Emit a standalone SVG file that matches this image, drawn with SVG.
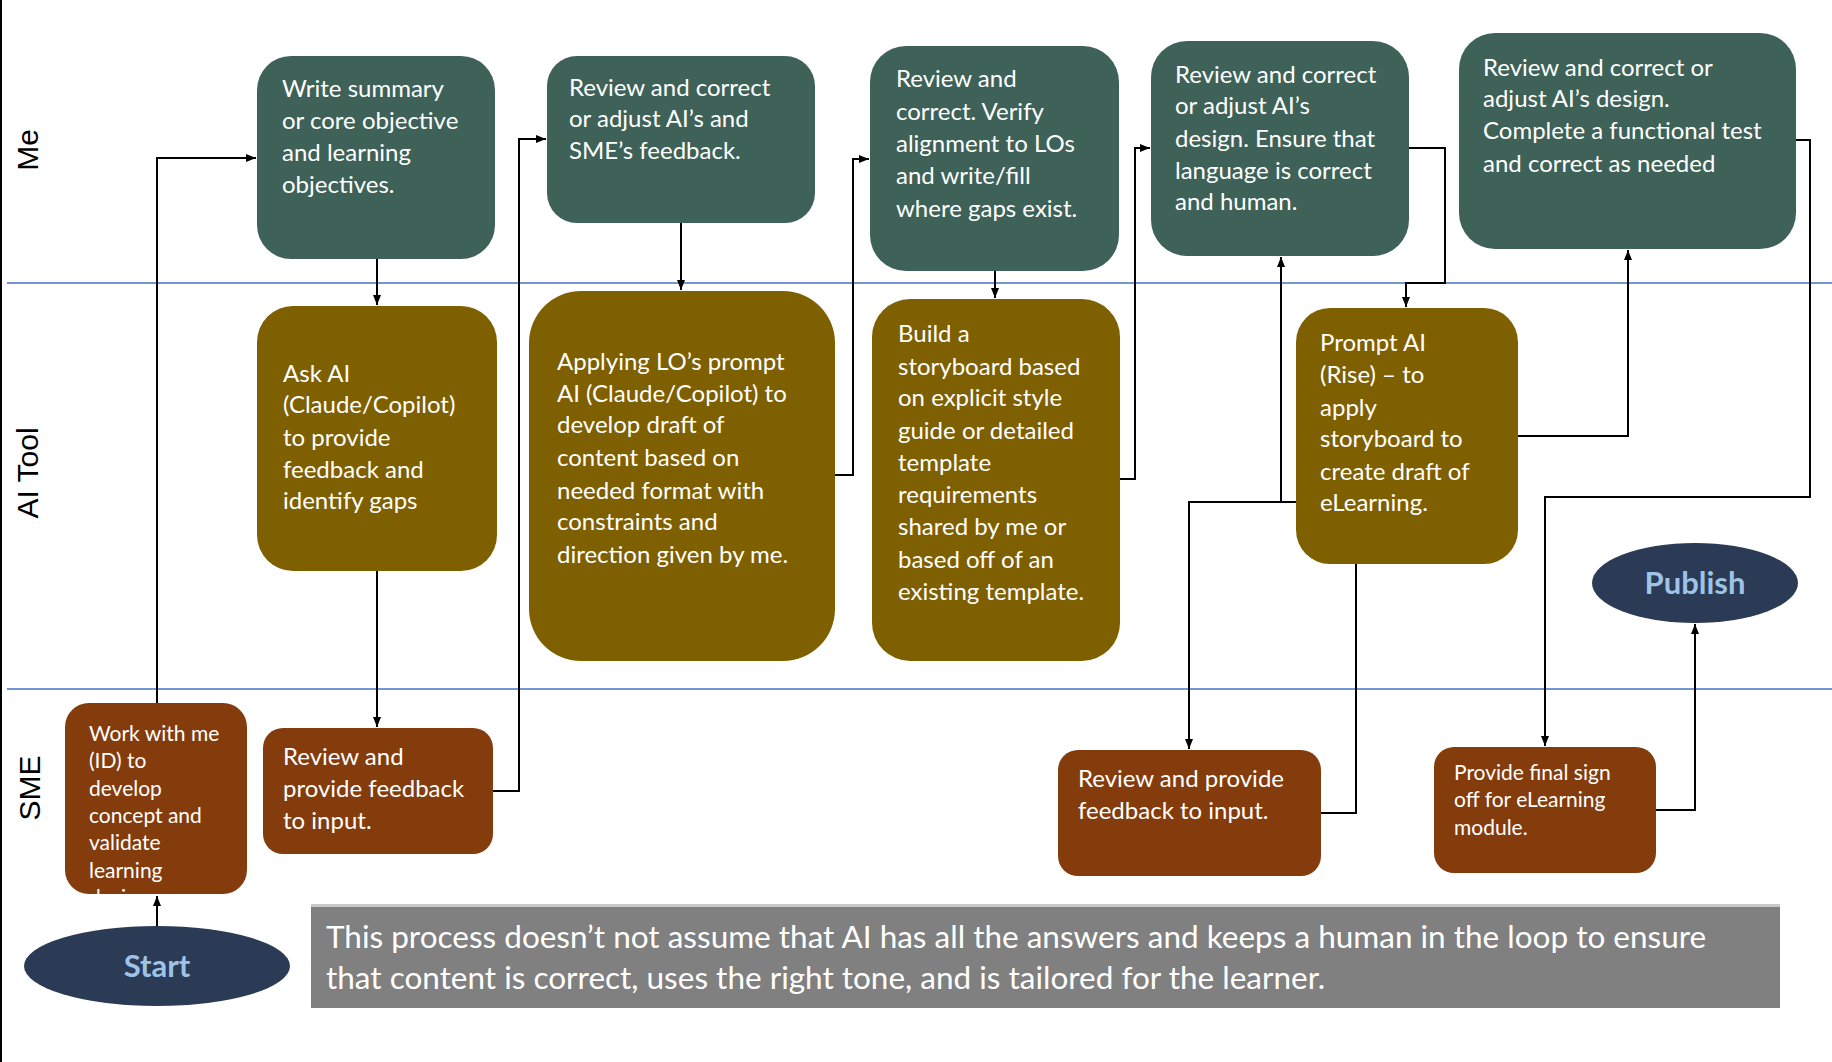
<svg xmlns="http://www.w3.org/2000/svg" width="1832" height="1062" viewBox="0 0 1832 1062">
<defs>
<marker id="ah" viewBox="0 0 10 10" refX="10" refY="5" markerWidth="10" markerHeight="10" markerUnits="userSpaceOnUse" orient="auto"><path d="M0,1 L10,5 L0,9 z" fill="#000"/></marker>
<clipPath id="c11"><rect x="65" y="703" width="182" height="191" rx="24"/></clipPath>
<style>
.me{fill:#3e6258}.ai{fill:#7f6000}.sme{fill:#843c0c}.ov{fill:#2b3a55}
text{font-family:Lato,"Open Sans",sans-serif;fill:#fff;font-size:24px}
.s{font-size:21px}
.lane{font-family:"Liberation Sans",Arial,sans-serif;fill:#000;font-size:30px}
.ovt{font-family:Lato,sans-serif;font-weight:bold;font-size:31px;fill:#9dc3e6}
.note{font-size:31.5px}
.c{fill:none;stroke:#000;stroke-width:2}
.ln{stroke:#4472c4;stroke-width:1.3}
</style>
</defs>
<rect width="1832" height="1062" fill="#fff"/>
<line x1="1" y1="0" x2="1" y2="1062" stroke="#000" stroke-width="2"/>
<line class="ln" x1="7" y1="283" x2="1832" y2="283"/>
<line class="ln" x1="7" y1="689" x2="1832" y2="689"/>
<text class="lane" transform="translate(38,150) rotate(-90)" text-anchor="middle">Me</text>
<text class="lane" transform="translate(38,473) rotate(-90)" text-anchor="middle">AI Tool</text>
<text class="lane" transform="translate(40,788) rotate(-90)" text-anchor="middle">SME</text>

<g id="connectors">
<path class="c" d="M157,927 V896" marker-end="url(#ah)"/>
<path class="c" d="M157,703 V158 H256" marker-end="url(#ah)"/>
<path class="c" d="M377,259 V305" marker-end="url(#ah)"/>
<path class="c" d="M377,571 V727" marker-end="url(#ah)"/>
<path class="c" d="M493,791 H519 V139 H546" marker-end="url(#ah)"/>
<path class="c" d="M681,223 V290" marker-end="url(#ah)"/>
<path class="c" d="M835,475 H853 V159 H869" marker-end="url(#ah)"/>
<path class="c" d="M995,271 V298" marker-end="url(#ah)"/>
<path class="c" d="M1120,479 H1135 V148 H1150" marker-end="url(#ah)"/>
<path class="c" d="M1409,148 H1445 V283 H1406 V307" marker-end="url(#ah)"/>
<path class="c" d="M1321,813 H1356 V564"/>
<path class="c" d="M1296,502 H1189 V749" marker-end="url(#ah)"/>
<path class="c" d="M1281,502 V257" marker-end="url(#ah)"/>
<path class="c" d="M1518,436 H1628 V250" marker-end="url(#ah)"/>
<path class="c" d="M1796,140 H1810 V497 H1545 V746" marker-end="url(#ah)"/>
<path class="c" d="M1656,810 H1695 V624" marker-end="url(#ah)"/>
</g>

<g id="n1"><rect class="me" x="257" y="56" width="238" height="203" rx="34"/>
<text x="282" y="97">Write summary</text><text x="282" y="129">or core objective</text><text x="282" y="161">and learning</text><text x="282" y="193">objectives.</text></g>
<g id="n2"><rect class="me" x="547" y="56" width="268" height="167" rx="30"/>
<text x="569" y="96">Review and correct</text><text x="569" y="127">or adjust AI’s and</text><text x="569" y="159">SME’s feedback.</text></g>
<g id="n3"><rect class="me" x="870" y="46" width="249" height="225" rx="36"/>
<text x="896" y="87">Review and</text><text x="896" y="120">correct. Verify</text><text x="896" y="152">alignment to LOs</text><text x="896" y="184">and write/fill</text><text x="896" y="217">where gaps exist.</text></g>
<g id="n4"><rect class="me" x="1151" y="41" width="258" height="215" rx="36"/>
<text x="1175" y="83">Review and correct</text><text x="1175" y="114">or adjust AI’s</text><text x="1175" y="147">design. Ensure that</text><text x="1175" y="179">language is correct</text><text x="1175" y="210">and human.</text></g>
<g id="n5"><rect class="me" x="1459" y="33" width="337" height="216" rx="36"/>
<text x="1483" y="76">Review and correct or</text><text x="1483" y="107">adjust AI’s design.</text><text x="1483" y="139">Complete a functional test</text><text x="1483" y="172">and correct as needed</text></g>

<g id="n6"><rect class="ai" x="257" y="306" width="240" height="265" rx="36"/>
<text x="283" y="382">Ask AI</text><text x="283" y="413">(Claude/Copilot)</text><text x="283" y="446">to provide</text><text x="283" y="478">feedback and</text><text x="283" y="509">identify gaps</text></g>
<g id="n7"><rect class="ai" x="529" y="291" width="306" height="370" rx="52"/>
<text x="557" y="370">Applying LO’s prompt</text><text x="557" y="402">AI (Claude/Copilot) to</text><text x="557" y="433">develop draft of</text><text x="557" y="466">content based on</text><text x="557" y="499">needed format with</text><text x="557" y="530">constraints and</text><text x="557" y="563">direction given by me.</text></g>
<g id="n8"><rect class="ai" x="872" y="299" width="248" height="362" rx="38"/>
<text x="898" y="342">Build a</text><text x="898" y="375">storyboard based</text><text x="898" y="406">on explicit style</text><text x="898" y="439">guide or detailed</text><text x="898" y="471">template</text><text x="898" y="503">requirements</text><text x="898" y="535">shared by me or</text><text x="898" y="568">based off of an</text><text x="898" y="600">existing template.</text></g>
<g id="n9"><rect class="ai" x="1296" y="308" width="222" height="256" rx="34"/>
<text x="1320" y="351">Prompt AI</text><text x="1320" y="383">(Rise) – to</text><text x="1320" y="416">apply</text><text x="1320" y="447">storyboard to</text><text x="1320" y="480">create draft of</text><text x="1320" y="511">eLearning.</text></g>

<g id="n10"><ellipse class="ov" cx="1695" cy="583" rx="103" ry="40"/><text class="ovt" x="1695" y="594" text-anchor="middle">Publish</text></g>

<g id="n11"><rect class="sme" x="65" y="703" width="182" height="191" rx="24"/>
<g clip-path="url(#c11)"><text class="s" x="89" y="741">Work with me</text><text class="s" x="89" y="768">(ID) to</text><text class="s" x="89" y="796">develop</text><text class="s" x="89" y="823">concept and</text><text class="s" x="89" y="850">validate</text><text class="s" x="89" y="878">learning</text><text class="s" x="89" y="905">design</text></g></g>
<g id="n12"><rect class="sme" x="263" y="728" width="230" height="126" rx="20"/>
<text x="283" y="765">Review and</text><text x="283" y="797">provide feedback</text><text x="283" y="829">to input.</text></g>
<g id="n13"><rect class="sme" x="1058" y="750" width="263" height="126" rx="20"/>
<text x="1078" y="787">Review and provide</text><text x="1078" y="819">feedback to input.</text></g>
<g id="n14"><rect class="sme" x="1434" y="747" width="222" height="126" rx="20"/>
<text class="s" x="1454" y="780">Provide final sign</text><text class="s" x="1454" y="807">off for eLearning</text><text class="s" x="1454" y="835">module.</text></g>

<g id="n15"><ellipse class="ov" cx="157" cy="966" rx="133" ry="40"/><text class="ovt" x="157" y="977" text-anchor="middle">Start</text></g>

<g id="n16"><rect x="311" y="904" width="1469" height="104" fill="#808080"/><rect x="311" y="904" width="1469" height="3" fill="#c8c8c8"/>
<text class="note" x="326" y="948">This process doesn’t not assume that AI has all the answers and keeps a human in the loop to ensure</text><text class="note" x="326" y="989">that content is correct, uses the right tone, and is tailored for the learner.</text></g>
</svg>
